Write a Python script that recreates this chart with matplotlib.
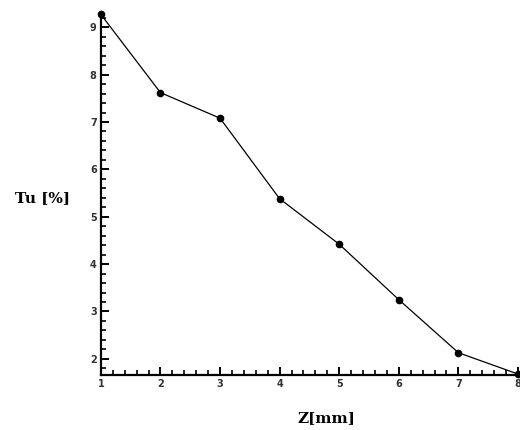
import numpy as np
import matplotlib.pyplot as plt
from matplotlib.ticker import MultipleLocator

# data
z_mm = [1, 2, 3, 4, 5, 6, 7, 8]
tu_pct = [9.27, 7.62, 7.08, 5.38, 4.42, 3.25, 2.13, 1.68]
x_ticks = [1, 2, 3, 4, 5, 6, 7, 8]
y_ticks = [2, 3, 4, 5, 6, 7, 8, 9]

fig = plt.figure(figsize=(5.2, 4.3), dpi=100)
ax = fig.add_axes([0.194, 0.128, 0.802, 0.845])

ax.plot(z_mm, tu_pct, color='black', lw=0.9, marker='o', ms=4.5, clip_on=False)

ax.set_xlim(1, 8)
ax.set_ylim(1.66, 9.33)
ax.set_xticks(x_ticks)
ax.set_yticks(y_ticks)
ax.xaxis.set_minor_locator(MultipleLocator(0.2))
ax.yaxis.set_minor_locator(MultipleLocator(0.2))

ax.spines['top'].set_visible(False)
ax.spines['right'].set_visible(False)
ax.spines['left'].set_linewidth(1.6)
ax.spines['bottom'].set_linewidth(1.6)

ax.tick_params(which='major', direction='in', length=6, width=1.4, labelsize=7, pad=3)
ax.tick_params(which='minor', direction='in', length=3.5, width=1.2)
for lbl in ax.get_xticklabels() + ax.get_yticklabels():
    lbl.set_fontweight('bold')
    lbl.set_color('#333333')

ax.set_xlabel('Z[mm]', fontsize=11, fontweight='bold', family='DejaVu Serif')
ax.xaxis.set_label_coords(0.54, -0.10)
ax.set_ylabel('Tu [%]', fontsize=11, fontweight='bold', family='DejaVu Serif',
              rotation=0, va='center')
ax.yaxis.set_label_coords(-0.14, 0.488)

fig.savefig('out.png', dpi=100)
